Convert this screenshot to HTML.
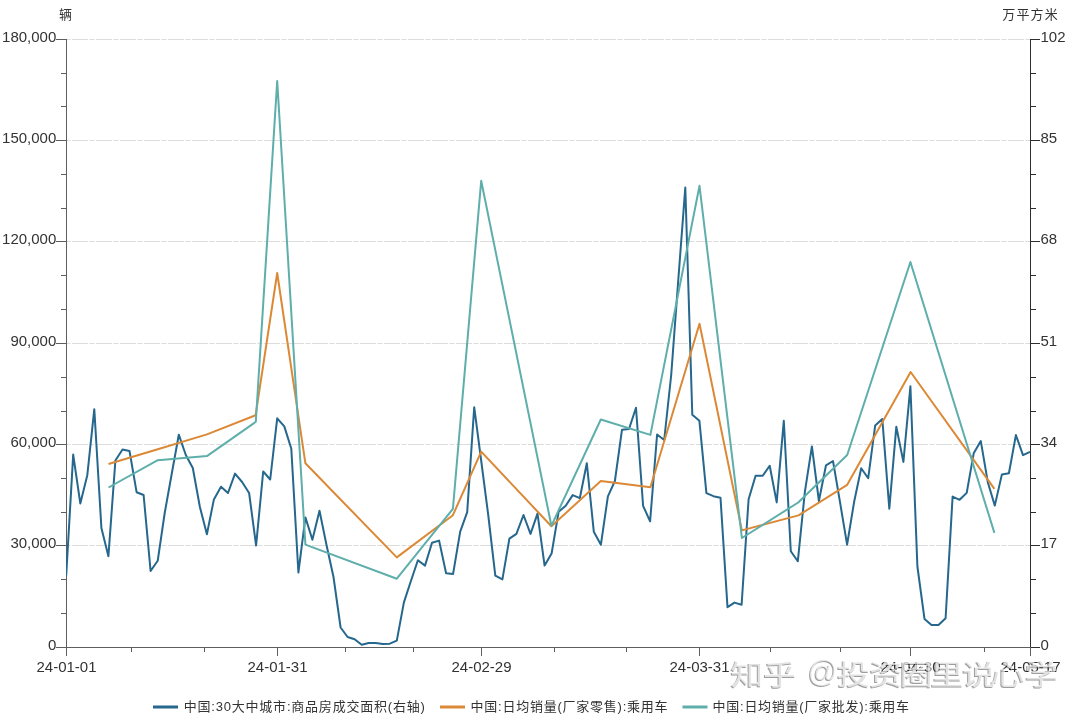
<!DOCTYPE html><html><head><meta charset="utf-8"><style>html,body{margin:0;padding:0;background:#fff;}svg{display:block;will-change:transform}text{font-family:"Liberation Sans","Noto Sans CJK SC",sans-serif;}</style></head><body>
<svg width="1080" height="720" viewBox="0 0 1080 720">
<defs><clipPath id="clip"><rect x="66" y="30" width="966" height="620"/></clipPath></defs>
<rect width="1080" height="720" fill="#fff"/>
<line x1="67" y1="545.5" x2="1030" y2="545.5" stroke="#dcdcdc" stroke-width="1" stroke-dasharray="16,1.5,5,1.5" stroke-dashoffset="19.1"/>
<line x1="67" y1="444.5" x2="1030" y2="444.5" stroke="#dcdcdc" stroke-width="1" stroke-dasharray="16,1.5,5,1.5" stroke-dashoffset="19.1"/>
<line x1="67" y1="343.5" x2="1030" y2="343.5" stroke="#dcdcdc" stroke-width="1" stroke-dasharray="16,1.5,5,1.5" stroke-dashoffset="19.1"/>
<line x1="67" y1="241.5" x2="1030" y2="241.5" stroke="#dcdcdc" stroke-width="1" stroke-dasharray="16,1.5,5,1.5" stroke-dashoffset="19.1"/>
<line x1="67" y1="140.5" x2="1030" y2="140.5" stroke="#dcdcdc" stroke-width="1" stroke-dasharray="16,1.5,5,1.5" stroke-dashoffset="19.1"/>
<line x1="67" y1="39.5" x2="1030" y2="39.5" stroke="#dcdcdc" stroke-width="1" stroke-dasharray="16,1.5,5,1.5" stroke-dashoffset="19.1"/>
<line x1="66.5" y1="39" x2="66.5" y2="648" stroke="#5e5e5e" stroke-width="1"/>
<line x1="1030.5" y1="39" x2="1030.5" y2="648" stroke="#2e2e2e" stroke-width="1"/>
<line x1="66" y1="647.5" x2="1031" y2="647.5" stroke="#5e5e5e" stroke-width="1"/>
<line x1="56" y1="647.5" x2="66" y2="647.5" stroke="#5e5e5e"/>
<line x1="1031" y1="647.5" x2="1040" y2="647.5" stroke="#2e2e2e"/>
<line x1="61" y1="613.5" x2="66" y2="613.5" stroke="#5e5e5e"/>
<line x1="1031" y1="613.5" x2="1036" y2="613.5" stroke="#2e2e2e"/>
<line x1="61" y1="579.5" x2="66" y2="579.5" stroke="#5e5e5e"/>
<line x1="1031" y1="579.5" x2="1036" y2="579.5" stroke="#2e2e2e"/>
<line x1="56" y1="545.5" x2="66" y2="545.5" stroke="#5e5e5e"/>
<line x1="1031" y1="545.5" x2="1040" y2="545.5" stroke="#2e2e2e"/>
<line x1="61" y1="512.5" x2="66" y2="512.5" stroke="#5e5e5e"/>
<line x1="1031" y1="512.5" x2="1036" y2="512.5" stroke="#2e2e2e"/>
<line x1="61" y1="478.5" x2="66" y2="478.5" stroke="#5e5e5e"/>
<line x1="1031" y1="478.5" x2="1036" y2="478.5" stroke="#2e2e2e"/>
<line x1="56" y1="444.5" x2="66" y2="444.5" stroke="#5e5e5e"/>
<line x1="1031" y1="444.5" x2="1040" y2="444.5" stroke="#2e2e2e"/>
<line x1="61" y1="411.5" x2="66" y2="411.5" stroke="#5e5e5e"/>
<line x1="1031" y1="411.5" x2="1036" y2="411.5" stroke="#2e2e2e"/>
<line x1="61" y1="377.5" x2="66" y2="377.5" stroke="#5e5e5e"/>
<line x1="1031" y1="377.5" x2="1036" y2="377.5" stroke="#2e2e2e"/>
<line x1="56" y1="343.5" x2="66" y2="343.5" stroke="#5e5e5e"/>
<line x1="1031" y1="343.5" x2="1040" y2="343.5" stroke="#2e2e2e"/>
<line x1="61" y1="309.5" x2="66" y2="309.5" stroke="#5e5e5e"/>
<line x1="1031" y1="309.5" x2="1036" y2="309.5" stroke="#2e2e2e"/>
<line x1="61" y1="275.5" x2="66" y2="275.5" stroke="#5e5e5e"/>
<line x1="1031" y1="275.5" x2="1036" y2="275.5" stroke="#2e2e2e"/>
<line x1="56" y1="241.5" x2="66" y2="241.5" stroke="#5e5e5e"/>
<line x1="1031" y1="241.5" x2="1040" y2="241.5" stroke="#2e2e2e"/>
<line x1="61" y1="208.5" x2="66" y2="208.5" stroke="#5e5e5e"/>
<line x1="1031" y1="208.5" x2="1036" y2="208.5" stroke="#2e2e2e"/>
<line x1="61" y1="174.5" x2="66" y2="174.5" stroke="#5e5e5e"/>
<line x1="1031" y1="174.5" x2="1036" y2="174.5" stroke="#2e2e2e"/>
<line x1="56" y1="140.5" x2="66" y2="140.5" stroke="#5e5e5e"/>
<line x1="1031" y1="140.5" x2="1040" y2="140.5" stroke="#2e2e2e"/>
<line x1="61" y1="106.5" x2="66" y2="106.5" stroke="#5e5e5e"/>
<line x1="1031" y1="106.5" x2="1036" y2="106.5" stroke="#2e2e2e"/>
<line x1="61" y1="73.5" x2="66" y2="73.5" stroke="#5e5e5e"/>
<line x1="1031" y1="73.5" x2="1036" y2="73.5" stroke="#2e2e2e"/>
<line x1="56" y1="39.5" x2="66" y2="39.5" stroke="#5e5e5e"/>
<line x1="1031" y1="39.5" x2="1040" y2="39.5" stroke="#2e2e2e"/>
<text x="56.3" y="650.1" font-size="15" fill="#333" text-anchor="end">0</text>
<text x="1040.5" y="650.1" font-size="15" fill="#333">0</text>
<text x="56.3" y="548.1" font-size="15" fill="#333" text-anchor="end">30,000</text>
<text x="1040.5" y="548.1" font-size="15" fill="#333">17</text>
<text x="56.3" y="447.1" font-size="15" fill="#333" text-anchor="end">60,000</text>
<text x="1040.5" y="447.1" font-size="15" fill="#333">34</text>
<text x="56.3" y="346.1" font-size="15" fill="#333" text-anchor="end">90,000</text>
<text x="1040.5" y="346.1" font-size="15" fill="#333">51</text>
<text x="56.3" y="244.1" font-size="15" fill="#333" text-anchor="end">120,000</text>
<text x="1040.5" y="244.1" font-size="15" fill="#333">68</text>
<text x="56.3" y="143.1" font-size="15" fill="#333" text-anchor="end">150,000</text>
<text x="1040.5" y="143.1" font-size="15" fill="#333">85</text>
<text x="56.3" y="42.1" font-size="15" fill="#333" text-anchor="end">180,000</text>
<text x="1040.5" y="42.1" font-size="15" fill="#333">102</text>
<line x1="66.5" y1="647" x2="66.5" y2="656" stroke="#5e5e5e"/>
<text x="66.5" y="671.8" font-size="15" fill="#333" text-anchor="middle">24-01-01</text>
<line x1="277.5" y1="647" x2="277.5" y2="656" stroke="#5e5e5e"/>
<text x="277.5" y="671.8" font-size="15" fill="#333" text-anchor="middle">24-01-31</text>
<line x1="481.5" y1="647" x2="481.5" y2="656" stroke="#5e5e5e"/>
<text x="481.5" y="671.8" font-size="15" fill="#333" text-anchor="middle">24-02-29</text>
<line x1="699.5" y1="647" x2="699.5" y2="656" stroke="#5e5e5e"/>
<text x="699.5" y="671.8" font-size="15" fill="#333" text-anchor="middle">24-03-31</text>
<line x1="910.5" y1="647" x2="910.5" y2="656" stroke="#5e5e5e"/>
<text x="910.5" y="671.8" font-size="15" fill="#333" text-anchor="middle">24-04-30</text>
<line x1="1030.5" y1="647" x2="1030.5" y2="656" stroke="#5e5e5e"/>
<text x="1030.5" y="671.8" font-size="15" fill="#333" text-anchor="middle">24-05-17</text>
<line x1="131.5" y1="647" x2="131.5" y2="652" stroke="#5e5e5e"/>
<line x1="204.5" y1="647" x2="204.5" y2="652" stroke="#5e5e5e"/>
<line x1="345.5" y1="647" x2="345.5" y2="652" stroke="#5e5e5e"/>
<line x1="413.5" y1="647" x2="413.5" y2="652" stroke="#5e5e5e"/>
<line x1="554.5" y1="647" x2="554.5" y2="652" stroke="#5e5e5e"/>
<line x1="626.5" y1="647" x2="626.5" y2="652" stroke="#5e5e5e"/>
<line x1="770.5" y1="647" x2="770.5" y2="652" stroke="#5e5e5e"/>
<line x1="840.5" y1="647" x2="840.5" y2="652" stroke="#5e5e5e"/>
<line x1="984.5" y1="647" x2="984.5" y2="652" stroke="#5e5e5e"/>
<text x="59" y="19" font-size="13" textLength="14.5" fill="#333">辆</text>
<text x="1002.3" y="19" font-size="13" textLength="55.5" fill="#333">万平方米</text>
<g clip-path="url(#clip)" fill="none" stroke-width="2" stroke-linejoin="round">
<polyline points="66.2,575.5 73.2,454.6 80.3,503.4 87.3,475.2 94.3,409.2 101.4,528.0 108.4,556.2 115.4,460.5 122.5,449.5 129.5,451.0 136.6,492.2 143.6,495.0 150.6,571.0 157.7,560.8 164.7,513.0 171.7,474.0 178.8,434.7 185.8,455.0 192.8,468.0 199.9,507.0 206.9,534.2 213.9,499.4 221.0,486.7 228.0,493.0 235.0,473.6 242.1,482.0 249.1,493.0 256.1,545.5 263.2,471.5 270.2,479.5 277.2,418.3 284.3,426.4 291.3,448.7 298.4,572.5 305.4,517.4 312.4,539.8 319.5,510.8 326.5,545.0 333.5,577.0 340.6,627.5 347.6,637.0 354.6,639.3 361.7,644.8 368.7,643.0 375.7,643.0 382.8,644.1 389.8,643.7 396.8,640.6 403.9,602.4 410.9,581.0 417.9,560.2 425.0,565.6 432.0,542.8 439.1,540.6 446.1,573.3 453.1,573.9 460.2,531.7 467.2,512.1 474.2,407.2 481.3,461.5 488.3,515.5 495.3,575.6 502.4,579.4 509.4,538.6 516.4,533.9 523.5,515.0 530.5,533.9 537.5,513.6 544.6,565.6 551.6,553.5 558.6,511.8 565.7,505.8 572.7,495.1 579.8,498.2 586.8,463.2 593.8,531.7 600.9,544.7 607.9,496.3 614.9,481.0 622.0,429.7 629.0,429.0 636.0,407.7 643.1,505.8 650.1,521.3 657.1,434.5 664.2,440.0 671.2,375.0 678.2,281.0 685.3,187.5 692.3,414.8 699.4,420.8 706.4,493.2 713.4,496.2 720.5,497.8 727.5,607.2 734.5,602.6 741.6,604.7 748.6,499.3 755.6,475.8 762.7,475.8 769.7,465.7 776.7,502.4 783.8,420.8 790.8,551.2 797.8,561.3 804.9,491.7 811.9,446.4 818.9,501.0 826.0,465.3 833.0,461.0 840.1,502.7 847.1,544.7 854.1,502.0 861.2,468.2 868.2,478.2 875.2,425.4 882.3,419.0 889.3,508.7 896.3,426.8 903.4,461.9 910.4,386.3 917.4,566.5 924.5,618.9 931.5,624.9 938.5,624.9 945.6,618.2 952.6,496.6 959.6,499.8 966.7,492.9 973.7,453.3 980.8,441.1 987.8,482.2 994.8,505.6 1001.9,474.4 1008.9,473.3 1015.9,435.1 1023.0,455.1 1030.0,451.8" stroke="#25678d"/>
<polyline points="108.5,464.0 157.8,449.3 207.0,434.4 255.6,415.3 277.2,273.0 305.4,463.3 396.8,557.4 452.9,515.2 481.2,451.6 551.4,526.3 600.8,481.0 650.4,487.3 699.5,323.8 741.9,530.4 798.5,515.4 847.2,484.8 910.6,372.0 994.4,488.9" stroke="#db8936"/>
<polyline points="108.5,487.5 157.8,460.2 206.9,456.1 255.8,421.8 277.2,81.0 305.4,544.6 396.8,578.7 452.9,508.9 481.2,180.8 551.4,525.8 600.8,419.5 650.4,434.9 699.5,185.8 741.9,538.0 798.2,502.5 847.2,455.0 910.4,262.0 994.4,532.9" stroke="#5eaeab"/>
</g>
<line x1="153" y1="707" x2="178" y2="707" stroke="#25678d" stroke-width="3"/>
<text x="183.8" y="711" font-size="13" textLength="241" fill="#333">中国:30大中城市:商品房成交面积(右轴)</text>
<line x1="440" y1="707" x2="465" y2="707" stroke="#db8936" stroke-width="3"/>
<text x="470.6" y="711" font-size="13" textLength="197" fill="#333">中国:日均销量(厂家零售):乘用车</text>
<line x1="682.5" y1="707" x2="707.5" y2="707" stroke="#5eaeab" stroke-width="3"/>
<text x="712.6" y="711" font-size="13" textLength="196.5" fill="#333">中国:日均销量(厂家批发):乘用车</text>
<defs><filter id="wmA" color-interpolation-filters="sRGB" x="-20%" y="-20%" width="140%" height="140%"><feOffset in="SourceAlpha" dx="-1.296" dy="1.556" result="o"/><feFlood flood-color="#000" flood-opacity="0.55"/><feComposite in2="o" operator="in" result="s"/><feMerge><feMergeNode in="s"/><feMergeNode in="SourceGraphic"/></feMerge></filter><filter id="wmB" color-interpolation-filters="sRGB" x="-20%" y="-20%" width="140%" height="140%"><feOffset in="SourceAlpha" dx="-1.458" dy="1.373" result="o"/><feFlood flood-color="#000" flood-opacity="0.55"/><feComposite in2="o" operator="in" result="s"/><feMerge><feMergeNode in="s"/><feMergeNode in="SourceGraphic"/></feMerge></filter></defs>
<g style="font-family:'Noto Sans CJK SC',sans-serif" font-size="31" font-weight="500" fill="#fff" fill-opacity="0.7">
<text transform="scale(1.08,0.9)" filter="url(#wmA)" x="676.3 706.8 737.8" y="760.89">知乎 </text>
<text transform="translate(809.5,659.6) scale(0.96,1.02)" filter="url(#wmB)" x="-1.74" y="22.3">@</text>
<text transform="scale(1.08,0.9)" filter="url(#wmA)" x="775.0 804.9 833.1 861.6 890.9 918.0 948.8" y="760.89">投资圈里说心学</text>
</g>
</svg></body></html>
